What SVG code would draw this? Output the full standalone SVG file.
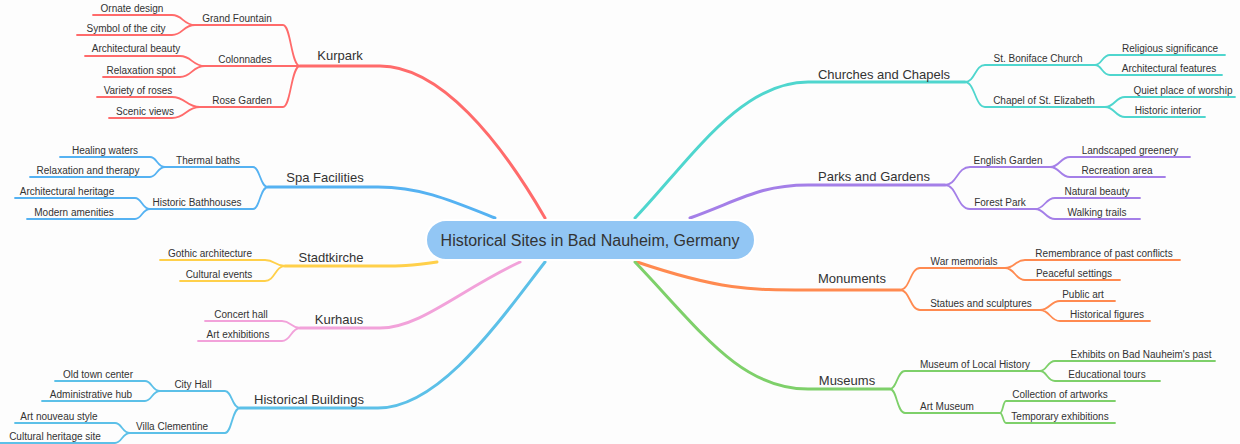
<svg xmlns="http://www.w3.org/2000/svg" width="1240" height="444" viewBox="0 0 1240 444">
<style>
text{font-family:"Liberation Sans",Arial,sans-serif;fill:#333;text-anchor:middle}
.m{font-size:13px}.s{font-size:10px}
path{fill:none;stroke-linecap:round}
.b{stroke-width:3}.c{stroke-width:1.8}
.r{stroke:#FF6B6B}.sp{stroke:#55B2F2}.y{stroke:#FFD04A}.p{stroke:#F2A2DA}.hb{stroke:#5CC0E8}
.t{stroke:#4FD6CE}.v{stroke:#A47FE8}.o{stroke:#FF8A50}.g{stroke:#7ED06A}
</style>
<rect width="1240" height="444" fill="#fdfdfd"/>
<g id="connectors">
<path class="b r" d="M545 218 C500 140 440 66 380 66 H300"/>
<path class="c r" d="M300 66 C291 66 291 25 283 25 H195 M300 66 H205 M300 66 C291 66 291 107 283 107 H200 M195 25 C183 25 183 15 172 15 H93 M195 25 C183 25 183 35 172 35 H77 M205 66 C192 66 192 56 180 56 H85 M205 66 C192 66 192 77 180 77 H103 M200 107 C186 107 186 97 172 97 H97 M200 107 C186 107 186 118 172 118 H109"/>
<path class="b sp" d="M495 218 C450 200 420 187 378 187 H268"/>
<path class="c sp" d="M268 187 C260 187 260 167 253 167 H165 M268 187 C260 187 260 209 253 209 H150 M165 167 C157 167 157 157 150 157 H60 M165 167 C157 167 157 177 150 177 H30 M150 209 C142 209 142 198 135 198 H15 M150 209 C142 209 142 219 135 219 H27"/>
<path class="b y" d="M437 262 C410 266 400 266 380 266 H285"/>
<path class="c y" d="M285 266 C275 266 275 260 265 260 H160 M285 266 C275 266 275 281 265 281 H180"/>
<path class="b p" d="M520 262 C460 290 420 328 380 328 H300"/>
<path class="c p" d="M300 328 C291 328 291 321 282 321 H205 M300 328 C291 328 291 341 282 341 H198"/>
<path class="b hb" d="M545 262 C500 320 440 408 378 408 H240"/>
<path class="c hb" d="M240 408 C232 408 232 391 225 391 H160 M240 408 C232 408 232 433 225 433 H130 M160 391 C152 391 152 381 145 381 H55 M160 391 C152 391 152 401 145 401 H42 M130 433 C122 433 122 423 115 423 H15 M130 433 C122 433 122 443 115 443 H0"/>
<path class="b t" d="M635 218 C690 160 740 82 808 82 H965"/>
<path class="c t" d="M965 82 C975 82 975 65 985 65 H1095 M965 82 C975 82 975 107 985 107 H1105 M1095 65 C1102 65 1102 55 1110 55 H1225 M1095 65 C1102 65 1102 75 1110 75 H1222 M1105 107 C1115 107 1115 97 1125 97 H1235 M1105 107 C1115 107 1115 117 1125 117 H1205"/>
<path class="b v" d="M690 218 C740 200 760 185 808 185 H945"/>
<path class="c v" d="M945 185 C957 185 957 167 970 167 H1050 M945 185 C957 185 957 209 970 209 H1035 M1050 167 C1060 167 1060 157 1070 157 H1190 M1050 167 C1060 167 1060 177 1070 177 H1165 M1035 209 C1045 209 1045 198 1055 198 H1140 M1035 209 C1045 209 1045 219 1055 219 H1140"/>
<path class="b o" d="M637 262 C720 290 750 290 808 290 H900"/>
<path class="c o" d="M900 290 C910 290 910 268 920 268 H1005 M900 290 C910 290 910 310 920 310 H1040 M1005 268 C1015 268 1015 260 1025 260 H1180 M1005 268 C1015 268 1015 280 1025 280 H1120 M1040 310 C1050 310 1050 301 1060 301 H1115 M1040 310 C1050 310 1050 321 1060 321 H1150"/>
<path class="b g" d="M635 262 C700 330 740 389 808 389 H890"/>
<path class="c g" d="M890 389 C897 389 897 371 905 371 H1040 M890 389 C897 389 897 413 905 413 H1000 M1040 371 C1047 371 1047 361 1055 361 H1215 M1040 371 C1047 371 1047 381 1055 381 H1160 M1000 413 C1003 413 1003 401 1006 401 H1115 M1000 413 C1003 413 1003 423 1006 423 H1115"/>
</g>
<g id="root"><rect x="426" y="220" width="329" height="40" rx="20" fill="#92C6F4" stroke="#fff" stroke-width="2"/><text x="590" y="246" font-size="16">Historical Sites in Bad Nauheim, Germany</text></g>
<g id="kurpark"><text class="m" x="340" y="60">Kurpark</text><text class="s" x="237" y="22">Grand Fountain</text><text class="s" x="245" y="63">Colonnades</text><text class="s" x="242" y="104">Rose Garden</text><text class="s" x="132" y="12">Ornate design</text><text class="s" x="126" y="32">Symbol of the city</text><text class="s" x="136" y="52">Architectural beauty</text><text class="s" x="141" y="74">Relaxation spot</text><text class="s" x="138" y="94">Variety of roses</text><text class="s" x="145" y="115">Scenic views</text></g>
<g id="spa"><text class="m" x="325" y="182">Spa Facilities</text><text class="s" x="208" y="164">Thermal baths</text><text class="s" x="197" y="206">Historic Bathhouses</text><text class="s" x="105" y="154">Healing waters</text><text class="s" x="88" y="174">Relaxation and therapy</text><text class="s" x="67" y="195">Architectural heritage</text><text class="s" x="74" y="216">Modern amenities</text></g>
<g id="stadtkirche"><text class="m" x="331" y="262">Stadtkirche</text><text class="s" x="210" y="257">Gothic architecture</text><text class="s" x="219" y="278">Cultural events</text></g>
<g id="kurhaus"><text class="m" x="339" y="324">Kurhaus</text><text class="s" x="241" y="318">Concert hall</text><text class="s" x="238" y="338">Art exhibitions</text></g>
<g id="historical-buildings"><text class="m" x="309" y="404">Historical Buildings</text><text class="s" x="193" y="388">City Hall</text><text class="s" x="172" y="430">Villa Clementine</text><text class="s" x="98" y="378">Old town center</text><text class="s" x="91" y="398">Administrative hub</text><text class="s" x="59" y="420">Art nouveau style</text><text class="s" x="55" y="440">Cultural heritage site</text></g>
<g id="churches"><text class="m" x="884" y="79">Churches and Chapels</text><text class="s" x="1038" y="62">St. Boniface Church</text><text class="s" x="1044" y="104">Chapel of St. Elizabeth</text><text class="s" x="1170" y="52">Religious significance</text><text class="s" x="1169" y="72">Architectural features</text><text class="s" x="1183" y="94">Quiet place of worship</text><text class="s" x="1168" y="114">Historic interior</text></g>
<g id="parks"><text class="m" x="874" y="181">Parks and Gardens</text><text class="s" x="1008" y="164">English Garden</text><text class="s" x="1000" y="206">Forest Park</text><text class="s" x="1130" y="154">Landscaped greenery</text><text class="s" x="1117" y="174">Recreation area</text><text class="s" x="1097" y="195">Natural beauty</text><text class="s" x="1097" y="216">Walking trails</text></g>
<g id="monuments"><text class="m" x="852" y="283">Monuments</text><text class="s" x="964" y="265">War memorials</text><text class="s" x="981" y="307">Statues and sculptures</text><text class="s" x="1104" y="257">Remembrance of past conflicts</text><text class="s" x="1074" y="277">Peaceful settings</text><text class="s" x="1083" y="298">Public art</text><text class="s" x="1107" y="318">Historical figures</text></g>
<g id="museums"><text class="m" x="847" y="385">Museums</text><text class="s" x="975" y="368">Museum of Local History</text><text class="s" x="947" y="410">Art Museum</text><text class="s" x="1141" y="358">Exhibits on Bad Nauheim's past</text><text class="s" x="1107" y="378">Educational tours</text><text class="s" x="1060" y="398">Collection of artworks</text><text class="s" x="1060" y="420">Temporary exhibitions</text></g>
</svg>
